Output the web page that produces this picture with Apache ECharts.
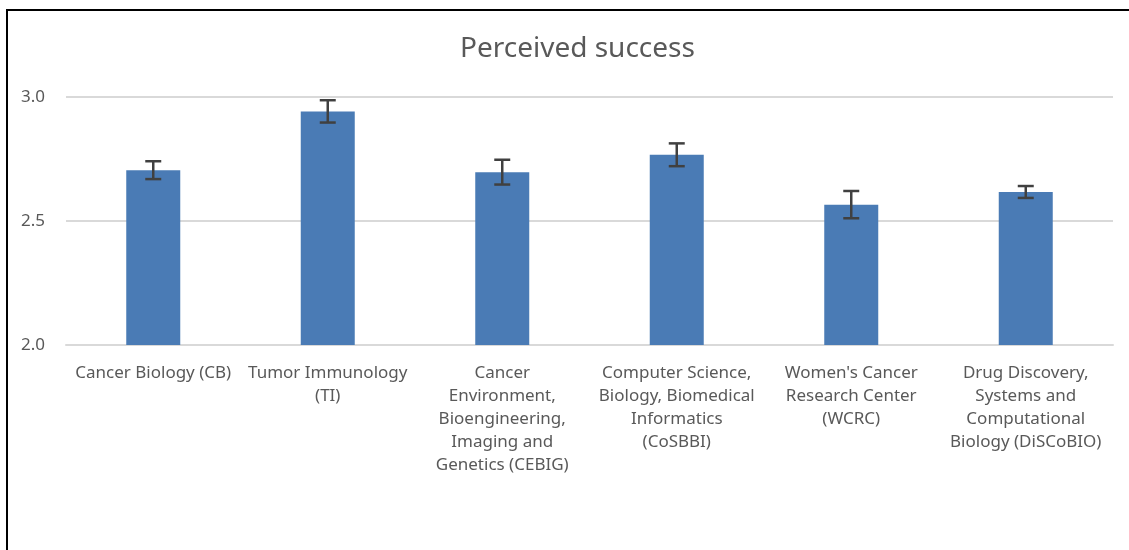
<!DOCTYPE html>
<html>
<head>
<meta charset="utf-8">
<script src="https://cdn.jsdelivr.net/npm/echarts@6/dist/echarts.min.js"></script>
<style>
  html, body { margin: 0; padding: 0; background: #fff; }
  #chart { width: 1129px; height: 550px; }
</style>
</head>
<body>
<div id="chart"></div>
<script>
// categories (line breaks as in the original axis labels)
var categories = [
  "Cancer Biology (CB)",
  "Tumor Immunology\n(TI)",
  "Cancer\nEnvironment,\nBioengineering,\nImaging and\nGenetics (CEBIG)",
  "Computer Science,\nBiology, Biomedical\nInformatics\n(CoSBBI)",
  "Women's Cancer\nResearch Center\n(WCRC)",
  "Drug Discovery,\nSystems and\nComputational\nBiology (DiSCoBIO)"
];
// mean values
var means = [2.705, 2.942, 2.697, 2.767, 2.566, 2.617];
// error (+/-)
var errors = [0.036, 0.045, 0.05, 0.046, 0.055, 0.024];
var yTicks = [2.0, 2.5, 3.0];

var font = "'Noto Sans', 'Open Sans', sans-serif";
var textColor = "#595959";

var chart = echarts.init(document.getElementById("chart"));

var option = {
  animation: false,
  backgroundColor: "#fff",
  title: {
    text: "Perceived success",
    left: 455,
    top: 30,
    textStyle: { fontFamily: font, fontSize: 28, fontWeight: "normal", color: textColor }
  },
  grid: { left: 66, right: 16, top: 97, bottom: 205 },
  xAxis: {
    type: "category",
    data: categories,
    axisLine: { show: true, lineStyle: { color: "#d9d9d9", width: 2 } },
    axisTick: { show: false },
    axisLabel: {
      interval: 0,
      margin: 17,
      fontFamily: font,
      fontSize: 17,
      lineHeight: 23,
      color: textColor,
      align: "center"
    }
  },
  yAxis: {
    type: "value",
    min: yTicks[0],
    max: yTicks[yTicks.length - 1],
    interval: 0.5,
    axisLine: { show: false },
    axisTick: { show: false },
    splitLine: { lineStyle: { color: "#d9d9d9", width: 2 } },
    axisLabel: {
      margin: 21,
      fontFamily: font,
      fontSize: 17,
      color: textColor,
      formatter: function (v) { return v.toFixed(1); }
    }
  },
  series: [
    {
      type: "bar",
      data: means,
      barWidth: 54,
      itemStyle: { color: "#4a7bb5" }
    },
    {
      // error bars
      type: "custom",
      data: means.map(function (m, i) { return [i, m - errors[i], m + errors[i]]; }),
      renderItem: function (params, api) {
        var lo = api.coord([api.value(0), api.value(1)]);
        var hi = api.coord([api.value(0), api.value(2)]);
        var hw = 8;
        var style = { stroke: "#404040", lineWidth: 2.5, fill: null };
        return {
          type: "group",
          children: [
            { type: "line", shape: { x1: lo[0], y1: lo[1], x2: hi[0], y2: hi[1] }, style: style },
            { type: "line", shape: { x1: lo[0] - hw, y1: lo[1], x2: lo[0] + hw, y2: lo[1] }, style: style },
            { type: "line", shape: { x1: hi[0] - hw, y1: hi[1], x2: hi[0] + hw, y2: hi[1] }, style: style }
          ]
        };
      },
      z: 10
    }
  ],
  graphic: [
    {
      type: "polyline",
      shape: { points: [[7, 550], [7, 10], [1129, 10]] },
      style: { stroke: "#000", lineWidth: 2, fill: null }
    }
  ]
};

chart.setOption(option);
</script>
</body>
</html>
